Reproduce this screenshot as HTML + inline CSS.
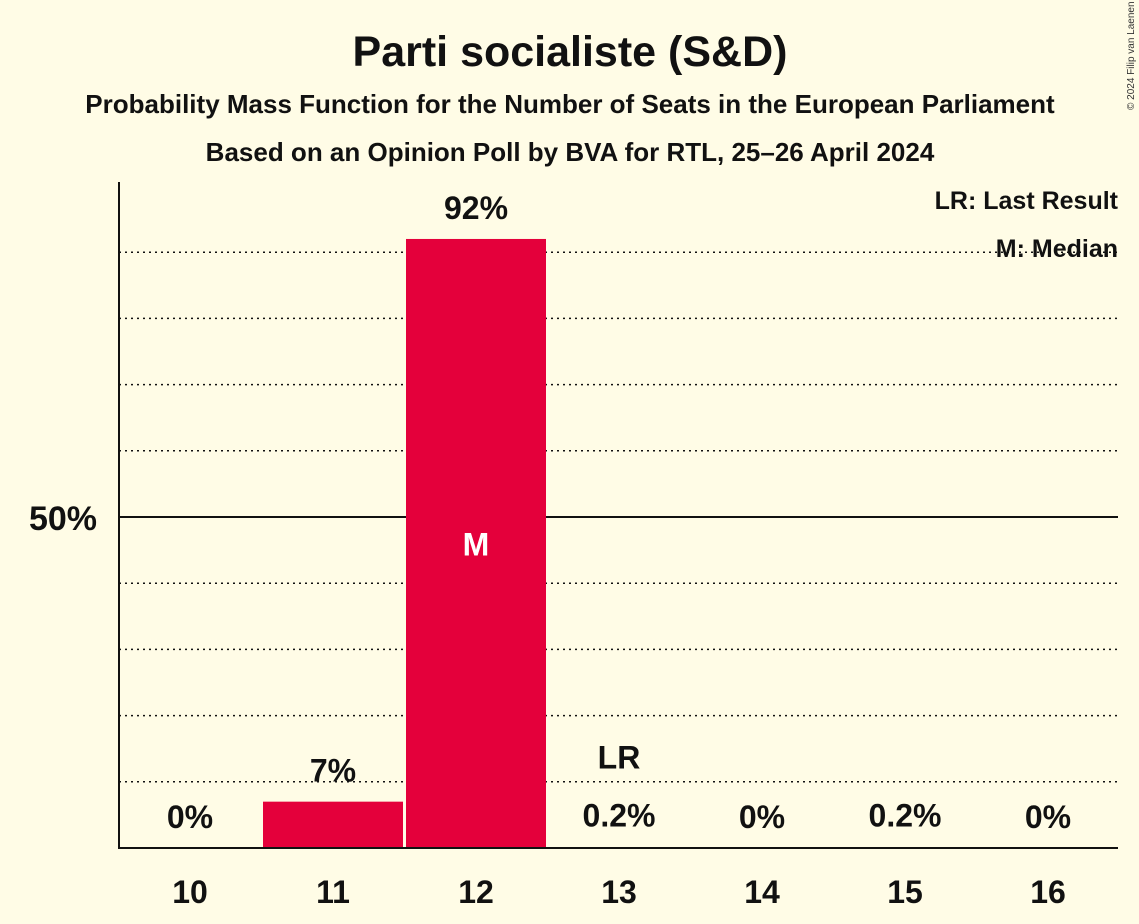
<!DOCTYPE html>
<html><head><meta charset="utf-8"><style>
html,body{margin:0;padding:0;background:#fffce6;}
svg{display:block;font-family:"Liberation Sans",sans-serif;}
</style></head><body>
<svg id="chart" width="1139" height="924" viewBox="0 0 1139 924">
<rect width="1139" height="924" fill="#fffce6"/>
<text x="570" y="66" text-anchor="middle" font-size="43" font-weight="bold" fill="#111">Parti socialiste (S&amp;D)</text>
<text x="570" y="113" text-anchor="middle" font-size="26" font-weight="bold" fill="#111">Probability Mass Function for the Number of Seats in the European Parliament</text>
<text x="570" y="161" text-anchor="middle" font-size="26" font-weight="bold" fill="#111">Based on an Opinion Poll by BVA for RTL, 25–26 April 2024</text>
<text x="1134" y="110" transform="rotate(-90 1134 110)" text-anchor="start" font-size="10" fill="#333">© 2024 Filip van Laenen</text>
<g id="grid"></g>
<g id="bars"></g>
<g id="labels"></g>
<line x1="119" y1="182" x2="119" y2="849" stroke="#111" stroke-width="2"/>
<line x1="118" y1="848" x2="1118" y2="848" stroke="#111" stroke-width="2"/>
<text x="97" y="530" text-anchor="end" font-size="34" font-weight="bold" fill="#111">50%</text>
<text x="1118" y="209" text-anchor="end" font-size="25" font-weight="bold" fill="#111">LR: Last Result</text>
<text x="1118" y="257" text-anchor="end" font-size="25" font-weight="bold" fill="#111">M: Median</text>
</svg>
<script>
const categories=[10,11,12,13,14,15,16];
const values=[0,7,92,0.2,0,0.2,0];
const valueLabels=["0%","7%","92%","0.2%","0%","0.2%","0%"];
const medianSeat=12;
const lastResultSeat=13;
const NS="http://www.w3.org/2000/svg";
function xc(i){return 190+i*143;}
function y(v){return 848-v*6.62;}
function mk(tag,attrs,parent){const e=document.createElementNS(NS,tag);for(const k in attrs)e.setAttribute(k,attrs[k]);parent.appendChild(e);return e;}
const grid=document.getElementById('grid'),bars=document.getElementById('bars'),labels=document.getElementById('labels');
for(let p=10;p<100;p+=10){
 const l=mk('line',{x1:119,x2:1118,y1:y(p),y2:y(p),stroke:'#111','stroke-width':p==50?2:1.5,'stroke-dasharray':p==50?'':'2 4'},grid);
 
 
}
categories.forEach((c,i)=>{
 const v=values[i];
 if(v>=1){
  const r=mk('rect',{x:xc(i)-70,y:y(v),width:140,height:848-y(v),fill:'#e4003b'},bars);
  
  
 }
 const top=y(v);
 const ly=Math.min(top-20,829);
 const t=mk('text',{x:xc(i),y:ly,'text-anchor':'middle','font-size':32,'font-weight':'bold',fill:'#111'},labels);
 t.textContent=valueLabels[i];
 
 
 const xt=mk('text',{x:xc(i),y:903,'text-anchor':'middle','font-size':32,'font-weight':'bold',fill:'#111'},labels);
 xt.textContent=c;
 
 
 if(c===medianSeat){
  const m=mk('text',{x:xc(i),y:(top+848)/2+12,'text-anchor':'middle','font-size':32,'font-weight':'bold',fill:'#fff'},labels);
  m.textContent='M';
  
  
 }
 if(c===lastResultSeat){
  const lr=mk('text',{x:xc(i),y:ly-58,'text-anchor':'middle','font-size':32,'font-weight':'bold',fill:'#111'},labels);
  lr.textContent='LR';
  
  
 }
});
</script>
</body></html>
